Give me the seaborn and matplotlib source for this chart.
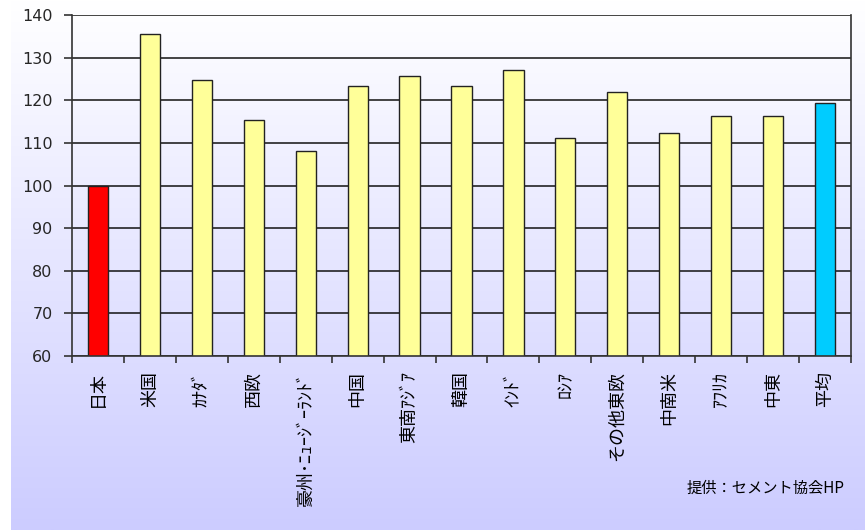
import numpy as np
import pandas as pd
import matplotlib
matplotlib.use("Agg")
import matplotlib.pyplot as plt
import seaborn as sns
from matplotlib.colors import LinearSegmentedColormap

# -----------------------------
# Data
# -----------------------------

regions = [
    "日本", "米国", "ｶﾅﾀﾞ", "西欧", "豪州･ﾆｭｰｼﾞｰﾗﾝﾄﾞ",
    "中国", "東南ｱｼﾞｱ", "韓国", "ｲﾝﾄﾞ", "ﾛｼｱ",
    "その他東欧", "中南米", "ｱﾌﾘｶ", "中東", "平均",
]

values = [
    100, 135.5, 124.7, 115.3, 108.1,
    123.4, 125.7, 123.4, 127.2, 111.1,
    121.9, 112.3, 116.4, 116.4, 119.4,
]

bar_colors = ["#ff0000"] + ["#ffff99"] * 13 + ["#00ccff"]

source_note = "提供：セメント協会HP"

# -----------------------------
# Style
# -----------------------------

sns.set_style("white")
plt.rcParams["font.family"] = ["Noto Sans CJK JP", "DejaVu Sans"]

df = pd.DataFrame({"region": regions, "value": values})

fig = plt.figure(figsize=(8.65, 5.3), dpi=100)
fig.patch.set_facecolor("white")

# gradient background panel
bg = fig.add_axes([11 / 865, 0, 1 - 11 / 865, 1], zorder=-10)
grad_cmap = LinearSegmentedColormap.from_list("bg", ["#ffffff", "#ccccff"])
bg.imshow(np.linspace(0, 1, 256).reshape(-1, 1), aspect="auto",
          cmap=grad_cmap, extent=[0, 1, 0, 1], origin="upper")
bg.axis("off")

ax = fig.add_axes([72 / 865, 1 - 356 / 530, (851 - 72) / 865, (356 - 15) / 530])
ax.patch.set_alpha(0)

sns.barplot(
    data=df,
    x="region",
    y="value",
    hue="region",
    palette=bar_colors,
    saturation=1,
    legend=False,
    width=0.39,
    edgecolor="#222222",
    linewidth=1.0,
    ax=ax,
)

ax.set_ylim(60, 140)
ax.set_xlim(-0.5, len(regions) - 0.5)
ax.set_yticks(range(60, 141, 10))
ax.set_xlabel("")
ax.set_ylabel("")

ax.set_axisbelow(True)
ax.yaxis.grid(True, color="#111111", linewidth=1.1)

for side in ["left", "bottom", "right"]:
    ax.spines[side].set_visible(True)
    ax.spines[side].set_color("#333333")
    ax.spines[side].set_linewidth(1.2)
ax.spines["top"].set_visible(False)

ax.set_xticks(np.arange(-0.5, len(regions)), minor=True)
ax.tick_params(axis="x", which="major", length=0, pad=11,
               labelsize=13, labelrotation=90, colors="black")
ax.tick_params(axis="x", which="minor", length=5, width=1.2,
               color="#333333", direction="out", bottom=True)
ax.tick_params(axis="y", length=6, width=1.2, color="#333333",
               pad=8, labelsize=11.5, left=True, direction="out")

for label in ax.get_xticklabels():
    label.set_verticalalignment("top")
    label.set_horizontalalignment("center")

for label in ax.get_yticklabels():
    label.set_family(["DejaVu Sans"])

fig.text(845 / 865, 1 - 488 / 530, source_note, ha="right",
         va="center", fontsize=11, color="black")

fig.savefig("out.png", dpi=100)
plt.close()
